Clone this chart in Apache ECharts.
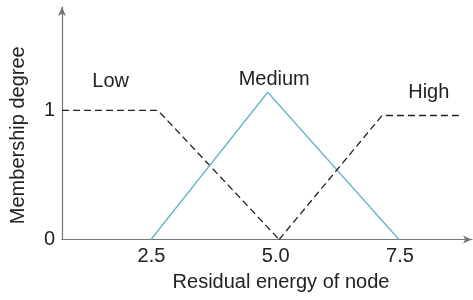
<!DOCTYPE html>
<html>
<head>
<meta charset="utf-8">
<script src="https://cdn.jsdelivr.net/npm/echarts@6/dist/echarts.min.js"></script>
<style>
  html, body { margin: 0; padding: 0; background: #fff; }
  #chart { width: 473px; height: 300px; }
</style>
</head>
<body>
<div id="chart"></div>
<script>
// membership functions, [energy, degree]
const lowPts = [[0.7, 1.0], [2.63, 1.0], [5.07, 0]];
const mediumPts = [[2.49, 0], [4.84, 1.14], [7.48, 0]];
const highPts = [[5.07, 0], [7.14, 0.96], [8.77, 0.96]];

const xTicks = [2.5, 5.0, 7.5];
const yTicks = [0, 1];

// where the set names sit, [energy, degree]
const setNames = ['Low', 'Medium', 'High'];
const namePos = [[1.68, 1.22], [4.97, 1.24], [8.08, 1.14]];

const font = 'Liberation Sans, Arial, sans-serif';
const textColor = '#222';

let myChart = echarts.init(document.getElementById('chart'));

function nameMark(i) {
    return {
        symbol: 'circle',
        symbolSize: 2,
        silent: true,
        itemStyle: { color: 'rgba(0,0,0,0)' },
        label: {
            show: true,
            position: 'inside',
            formatter: setNames[i],
            color: textColor,
            fontSize: 20,
            fontFamily: font
        },
        data: [{ coord: namePos[i] }]
    };
}

const dashed = { color: '#222', width: 1.3, type: [7, 4] };

let option = {
    animation: false,
    grid: { left: 62, right: 1, top: 7, bottom: 60.5 },
    xAxis: {
        type: 'value',
        min: 0.7,
        max: 8.95,
        name: 'Residual energy of node',
        nameLocation: 'middle',
        nameGap: 33,
        nameTextStyle: { color: textColor, fontSize: 20, fontFamily: font, padding: [0, 0, 0, 28] },
        axisLine: {
            show: true,
            symbol: ['none', 'arrow'],
            symbolSize: [6, 9],
            lineStyle: { color: '#777', width: 1.2 }
        },
        axisTick: { show: false },
        splitLine: { show: false },
        axisLabel: {
            customValues: xTicks,
            formatter: v => v.toFixed(1),
            color: textColor,
            fontSize: 20,
            fontFamily: font,
            margin: 7
        }
    },
    yAxis: {
        type: 'value',
        min: 0,
        max: 1.8,
        name: 'Membership degree',
        nameLocation: 'middle',
        nameGap: 34,
        nameRotate: 90,
        nameTextStyle: { color: textColor, fontSize: 20, fontFamily: font, padding: [0, 24, 0, 0] },
        axisLine: {
            show: true,
            symbol: ['none', 'arrow'],
            symbolSize: [6, 9],
            lineStyle: { color: '#777', width: 1.2 }
        },
        axisTick: { show: false },
        splitLine: { show: false },
        axisLabel: {
            customValues: yTicks,
            color: textColor,
            fontSize: 20,
            fontFamily: font,
            margin: 7
        }
    },
    series: [
        {
            name: 'Low',
            type: 'line',
            data: lowPts,
            symbol: 'none',
            lineStyle: dashed,
            markPoint: nameMark(0)
        },
        {
            name: 'Medium',
            type: 'line',
            data: mediumPts,
            symbol: 'none',
            lineStyle: { color: '#6db5c9', width: 1.4 },
            markPoint: nameMark(1)
        },
        {
            name: 'High',
            type: 'line',
            data: highPts,
            symbol: 'none',
            lineStyle: dashed,
            markPoint: nameMark(2)
        }
    ]
};

option && myChart.setOption(option);
</script>
</body>
</html>
